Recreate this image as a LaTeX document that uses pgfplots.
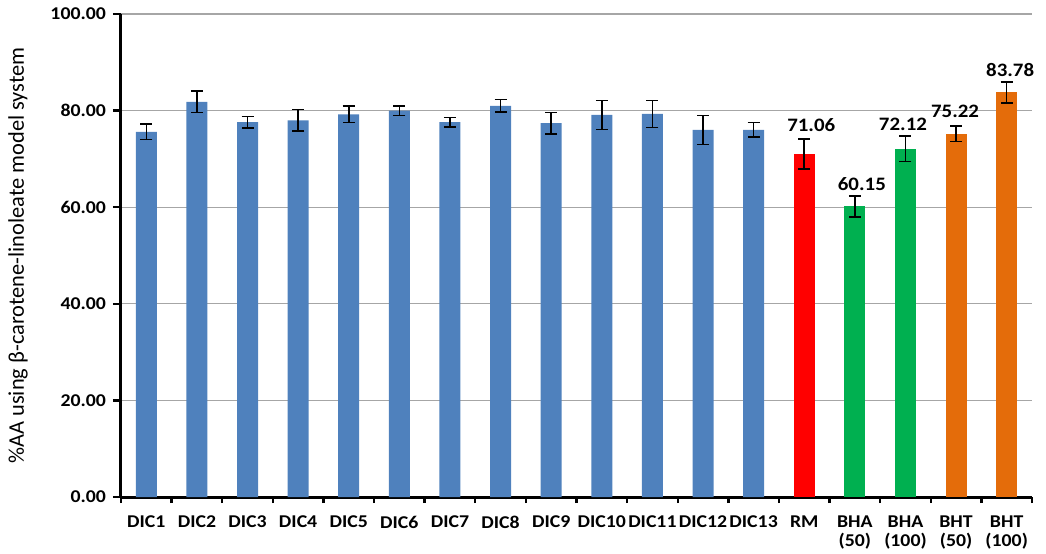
\documentclass[border=0pt]{standalone}
\usepackage{fontspec}
\setmainfont{Carlito}
\newfontfamily\lab{Carlito}[FakeStretch=1.1]
\usepackage{pgfplots}
\pgfplotsset{compat=1.18}
\definecolor{cblue}{HTML}{4F81BD}
\definecolor{cred}{HTML}{FF0000}
\definecolor{cgreen}{HTML}{00B050}
\definecolor{corange}{HTML}{E46C0A}
\pgfplotsset{
  mybar/.style={ybar, bar width=10.5pt, bar shift=0pt, fill=#1, draw=none,
    error bars/y dir=both, error bars/y explicit,
    error bars/error bar style={line width=0.8pt, black},
    error bars/error mark options={rotate=90, mark size=3pt, line width=0.8pt, black}},
  lbl/.style 2 args={nodes near coords={\pgfmathprintnumber[fixed, fixed zerofill, precision=2, assume math mode=true]{\pgfplotspointmeta}},
    nodes near coords style={font=\lab\bfseries\fontsize{9.5}{11}\selectfont, anchor=south, inner sep=0pt, yshift=#1, xshift=#2, text=black}},
}
\begin{document}
\begin{tikzpicture}
\useasboundingbox (-60.5pt,-28pt) rectangle (462.5pt,248.5pt);
\begin{axis}[
  at={(0,0)}, anchor=south west,
  width=455.5pt, height=241.5pt, scale only axis,
  xmin=-0.5, xmax=17.5, ymin=0, ymax=100,
  axis lines*=left,
  axis line style={line width=1.5pt, black},
  ytick={0,20,...,100},
  ymajorgrids,
  grid style={gray!70, line width=0.6pt},
  xtick={0,...,17},
  xticklabels={DIC1,DIC2,DIC3,DIC4,DIC5,DIC6,DIC7,DIC8,DIC9,DIC10,DIC11,DIC12,DIC13,RM,BHA\\(50),BHA\\(100),BHT\\(50),BHT\\(100)},
  minor xtick={-0.5,0.5,...,17.5},
  tick align=outside,
  major tick length=4pt,
  minor tick length=3pt,
  major x tick style={draw=none},
  minor x tick style={line width=1.2pt, black},
  y tick style={line width=1.2pt, black},
  x tick label style={font=\lab\bfseries\fontsize{9}{9.5}\selectfont, align=center, anchor=north, yshift=-2pt},
  y tick label style={font=\lab\bfseries\fontsize{9}{10}\selectfont},
  yticklabel style={/pgf/number format/.cd, fixed, fixed zerofill, precision=2, assume math mode=true},
  ylabel={\%AA using β-carotene-linoleate model system},
  ylabel style={at={(axis description cs:-0.113,0.5)}, anchor=center, font=\fontsize{11.2}{13}\selectfont},
  clip=false,
]
\addplot[mybar=cblue]
coordinates {
(0,75.6) +- (0,1.6)
(1,81.8) +- (0,2.2)
(2,77.6) +- (0,1.2)
(3,78.0) +- (0,2.2)
(4,79.2) +- (0,1.7)
(5,80.0) +- (0,1.0)
(6,77.6) +- (0,1.0)
(7,81.0) +- (0,1.3)
(8,77.4) +- (0,2.2)
(9,79.1) +- (0,3.0)
(10,79.3) +- (0,2.8)
(11,76.0) +- (0,3.0)
(12,76.0) +- (0,1.5)
};
\addplot[lbl={10.8pt}{3.5pt}, mybar=cred] coordinates {(13,71.06) +- (0,3.1)};
\addplot[lbl={7.85pt}{3.5pt}, mybar=cgreen] coordinates {(14,60.15) +- (0,2.2)};
\addplot[lbl={8.85pt}{-1.25pt}, mybar=cgreen] coordinates {(15,72.12) +- (0,2.65)};
\addplot[lbl={8pt}{-0.5pt}, mybar=corange] coordinates {(16,75.22) +- (0,1.6)};
\addplot[lbl={7.8pt}{1.75pt}, mybar=corange] coordinates {(17,83.78) +- (0,2.2)};
\end{axis}
\end{tikzpicture}
\end{document}
